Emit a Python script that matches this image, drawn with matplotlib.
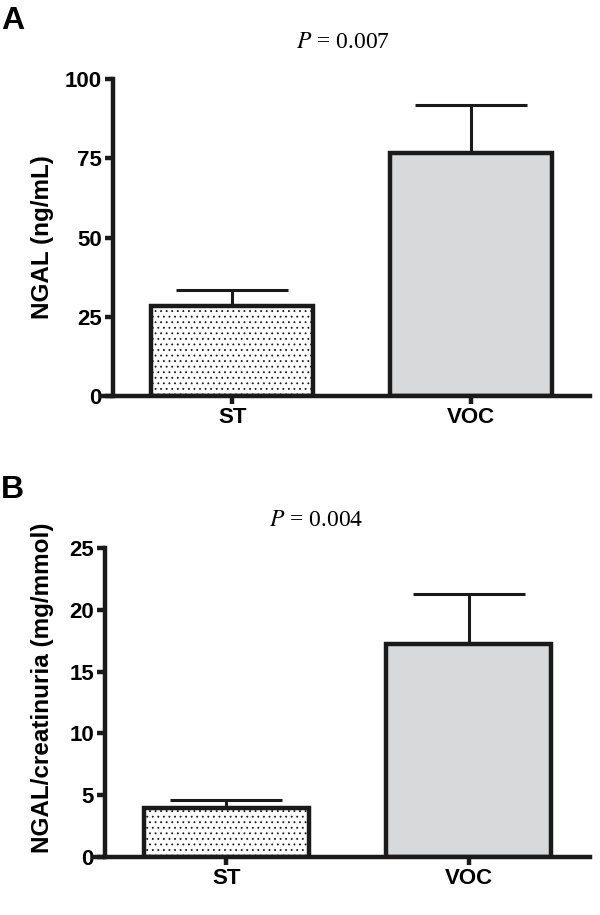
import matplotlib
matplotlib.use("Agg")
import matplotlib.pyplot as plt

# данные панели A
groups = ["ST", "VOC"]
ngal = [28.5, 76.5]
ngal_err = [5.0, 15.2]
ngal_ticks = [0, 25, 50, 75, 100]

# данные панели B
ratio = [3.95, 17.2]
ratio_err = [0.7, 4.1]
ratio_ticks = [0, 5, 10, 15, 20, 25]

p_a = "0.007"
p_b = "0.004"

plt.rcParams["font.family"] = ["Liberation Sans", "DejaVu Sans"]
plt.rcParams["hatch.linewidth"] = 0.6
plt.rcParams["hatch.color"] = "#444444"

W, H = 600, 915
fig = plt.figure(figsize=(W / 100, H / 100), dpi=100)


def px_axes(left, right, top, bottom):
    return fig.add_axes([left / W, 1 - bottom / H, (right - left) / W, (bottom - top) / H])


def draw_panel(ax, values, errs, ticks):
    x = [0, 1]
    fills = ["white", "#d8d9db"]
    hatches = ["...", ""]
    for i in x:
        ax.bar(i, values[i], width=0.68, color=fills[i], edgecolor="#1a1a1a",
               linewidth=3.2, hatch=hatches[i], zorder=2)
        ax.errorbar(i, values[i], yerr=[[0], [errs[i]]], fmt="none", ecolor="#1a1a1a",
                    elinewidth=2.2, capsize=40, capthick=2.2, zorder=1)
    ax.set_xlim(-0.5, 1.5)
    ax.set_ylim(0, ticks[-1])
    ax.set_yticks(ticks)
    ax.set_xticks(x)
    ax.set_xticklabels(groups)
    for s in ["top", "right"]:
        ax.spines[s].set_visible(False)
    for s in ["left", "bottom"]:
        ax.spines[s].set_linewidth(3.2)
        ax.spines[s].set_color("#1a1a1a")
    ax.spines["bottom"].set_bounds(-0.55, 1.5)
    ax.tick_params(axis="both", direction="out", length=6, width=3.2, color="#1a1a1a",
                   labelsize=16, pad=2)
    for lab in ax.get_xticklabels() + ax.get_yticklabels():
        lab.set_fontweight("bold")


ax_a = px_axes(113, 590, 79, 396)
draw_panel(ax_a, ngal, ngal_err, ngal_ticks)

ax_b = px_axes(105, 590, 548, 857)
draw_panel(ax_b, ratio, ratio_err, ratio_ticks)

# подписи осей
fig.text(42 / W, 1 - 237 / H, "NGAL (ng/mL)", fontsize=17.5, fontweight="bold",
         rotation=90, ha="center", va="center")
fig.text(42 / W, 1 - 688 / H, "NGAL/creatinuria (mg/mmol)", fontsize=17.5,
         fontweight="bold", rotation=90, ha="center", va="center")

# подписи панелей и P-значения
fig.text(1 / W, 1 - 21 / H, "A", fontsize=23, fontweight="bold", va="center")
fig.text(1 / W, 1 - 490 / H, "B", fontsize=23, fontweight="bold", va="center")
fig.text(343 / W, 1 - 42 / H, "$P$ = " + p_a, fontsize=17, ha="center", va="center",
         family="Liberation Serif", math_fontfamily="stix")
fig.text(316 / W, 1 - 520 / H, "$P$ = " + p_b, fontsize=17, ha="center", va="center",
         family="Liberation Serif", math_fontfamily="stix")

fig.savefig("out.png", dpi=100)
